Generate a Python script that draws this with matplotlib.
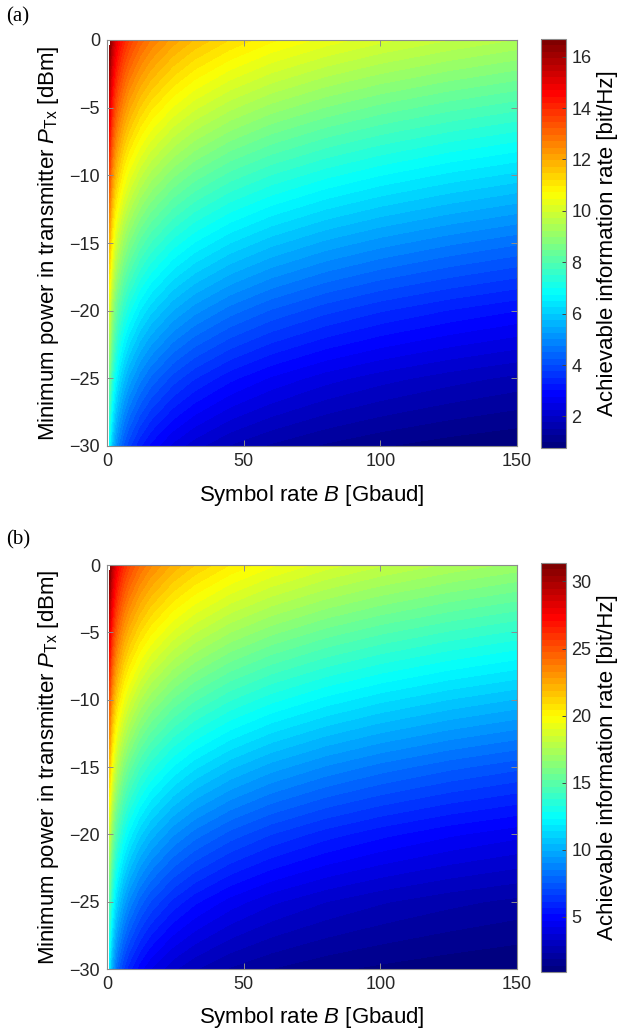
import numpy as np
import matplotlib
matplotlib.use("Agg")
import matplotlib.pyplot as plt
from matplotlib.colors import LinearSegmentedColormap

plt.rcParams["font.family"] = ["Liberation Sans Narrow", "Liberation Sans", "DejaVu Sans"]
plt.rcParams["mathtext.fontset"] = "custom"
plt.rcParams["mathtext.rm"] = "Liberation Sans"
plt.rcParams["mathtext.it"] = "Liberation Sans:italic"

# sample grid
symbol_rate = [1, 1.5, 2, 3, 4, 6, 8, 12, 16, 24, 32, 45, 60, 80, 100, 125, 150]
power_dbm = [0, -5, -10, -15, -20, -25, -30]

# (a) achievable information rate [bit/Hz], rows = power, cols = symbol rate
rate_a = [
    [16.69, 16.11, 15.69, 15.11, 14.69, 14.11, 13.69, 13.11, 12.69, 12.11, 11.69, 11.20, 10.78, 10.37, 10.05, 9.73, 9.46],
    [15.03, 14.45, 14.03, 13.45, 13.03, 12.45, 12.03, 11.45, 11.03, 10.45, 10.03, 9.54, 9.12, 8.71, 8.39, 8.07, 7.81],
    [13.37, 12.78, 12.37, 11.78, 11.37, 10.78, 10.37, 9.79, 9.37, 8.79, 8.37, 7.88, 7.47, 7.06, 6.74, 6.42, 6.16],
    [11.71, 11.12, 10.71, 10.12, 9.71, 9.13, 8.71, 8.13, 7.72, 7.13, 6.72, 6.24, 5.83, 5.42, 5.11, 4.80, 4.54],
    [10.05, 9.46, 9.05, 8.47, 8.05, 7.47, 7.06, 6.48, 6.07, 5.49, 5.09, 4.62, 4.22, 3.83, 3.53, 3.24, 3.01],
    [8.39, 7.81, 7.40, 6.81, 6.40, 5.83, 5.42, 4.85, 4.45, 3.90, 3.52, 3.08, 2.72, 2.37, 2.12, 1.88, 1.69],
    [6.74, 6.16, 5.75, 5.18, 4.78, 4.22, 3.83, 3.30, 2.93, 2.44, 2.11, 1.74, 1.47, 1.22, 1.04, 0.88, 0.77],
]

# (b)
rate_b = [
    [31.38, 30.21, 29.38, 28.21, 27.38, 26.21, 25.38, 24.21, 23.38, 22.21, 21.38, 20.40, 19.57, 18.74, 18.10, 17.46, 16.93],
    [28.06, 26.89, 26.06, 24.89, 24.06, 22.89, 22.06, 20.89, 20.06, 18.89, 18.07, 17.08, 16.26, 15.43, 14.79, 14.15, 13.63],
    [24.74, 23.57, 22.74, 21.57, 20.74, 19.57, 18.74, 17.57, 16.75, 15.58, 14.76, 13.78, 12.96, 12.14, 11.50, 10.87, 10.36],
    [21.42, 20.25, 19.42, 18.25, 17.42, 16.26, 15.43, 14.27, 13.44, 12.29, 11.47, 10.51, 9.70, 8.91, 8.30, 7.69, 7.21],
    [18.10, 16.93, 16.11, 14.94, 14.12, 12.96, 12.14, 10.99, 10.18, 9.05, 8.26, 7.35, 6.59, 5.86, 5.31, 4.77, 4.36],
    [14.79, 13.63, 12.81, 11.65, 10.84, 9.70, 8.91, 7.80, 7.04, 5.99, 5.28, 4.48, 3.84, 3.26, 2.84, 2.45, 2.16],
    [11.50, 10.36, 9.56, 8.44, 7.66, 6.59, 5.86, 4.87, 4.21, 3.36, 2.82, 2.24, 1.82, 1.46, 1.23, 1.02, 0.87],
]

xticks = [0, 50, 100, 150]
yticks = [0, -5, -10, -15, -20, -25, -30]
cbar_ticks_a = [2, 4, 6, 8, 10, 12, 14, 16]
cbar_ticks_b = [5, 10, 15, 20, 25, 30]

# MATLAB style jet, 64 colours
jet_m = LinearSegmentedColormap.from_list(
    "jet_m",
    [(0, (0, 0, 0.5)), (1 / 8, (0, 0, 1)), (3 / 8, (0, 1, 1)),
     (5 / 8, (1, 1, 0)), (7 / 8, (1, 0, 0)), (1, (0.5, 0, 0))], N=64)

W, H = 629, 1034
fig = plt.figure(figsize=(W / 100, H / 100), dpi=100)
edge = "#8c8c8c"
tick_col = "#262626"


def panel(rect, cbrect, z, cticks, tag, tag_y):
    ax = fig.add_axes(rect)
    z = np.array(z)
    levels = np.linspace(z.min(), z.max(), 65)
    cs = ax.contourf(symbol_rate, power_dbm, z, levels=levels, cmap=jet_m)
    ax.set_xlim(0, 150)
    ax.set_ylim(-30, 0)
    ax.set_xticks(xticks)
    ax.set_yticks(yticks)
    ax.tick_params(direction="in", top=True, right=True, length=4, width=0.7,
                   color=edge, labelcolor=tick_col, labelsize=13, pad=5)
    for s in ax.spines.values():
        s.set_color(edge)
        s.set_linewidth(0.8)
    ax.set_xlabel("Symbol rate $B$ [Gbaud]", fontsize=16, family="Liberation Sans")
    ax.set_ylabel(r"Minimum power in transmitter $P_{\mathrm{Tx}}$ [dBm]", fontsize=16,
                  family="Liberation Sans")
    ax.xaxis.set_label_coords(0.5, -0.09)
    ax.yaxis.set_label_coords(-0.113, 0.5)

    cax = fig.add_axes(cbrect)
    cb = fig.colorbar(cs, cax=cax, ticks=cticks)
    cb.outline.set_edgecolor(edge)
    cb.outline.set_linewidth(0.8)
    cax.tick_params(direction="in", length=3, width=0.7, color="#444444",
                    labelcolor=tick_col, labelsize=13, pad=4)
    cb.set_label("Achievable information rate [bit/Hz]", fontsize=16,
                 family="Liberation Sans", labelpad=4)
    fig.text(6 / W, 1 - tag_y / H, tag, fontsize=15, family="Liberation Serif",
             ha="left", va="center")


panel([107 / W, 1 - 446 / H, 410 / W, 406 / H], [541 / W, 1 - 448 / H, 25 / W, 409 / H],
      rate_a, cbar_ticks_a, "(a)", 17)
panel([107 / W, 1 - 969 / H, 410 / W, 404 / H], [541 / W, 1 - 972 / H, 25 / W, 409 / H],
      rate_b, cbar_ticks_b, "(b)", 540)

fig.savefig("out.png", dpi=100)
